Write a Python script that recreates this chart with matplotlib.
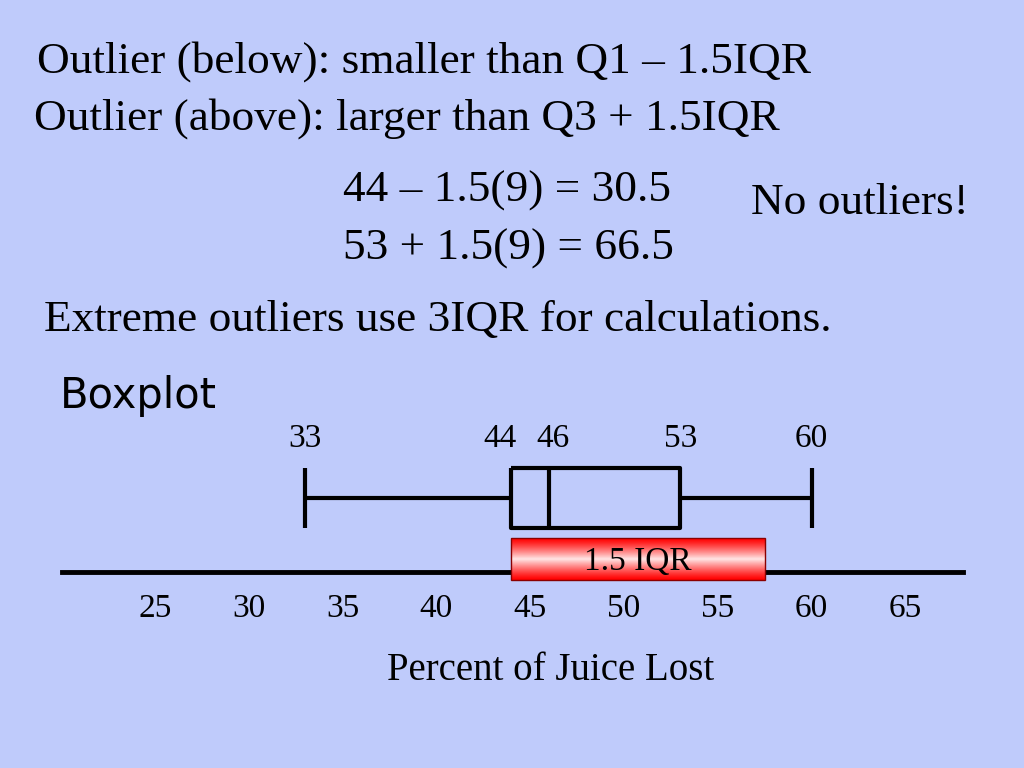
import matplotlib
matplotlib.use("Agg")
import matplotlib.pyplot as plt
import numpy as np

tick_values = [25, 30, 35, 40, 45, 50, 55, 60, 65]
five_num = [33, 44, 46, 53, 60]  # min, Q1, median, Q3, max
iqr = five_num[3] - five_num[1]

bg = "#BFCBFB"
fig = plt.figure(figsize=(10.24, 7.68), dpi=100, facecolor=bg)
ax = fig.add_axes([0, 0, 1, 1])
ax.set_facecolor(bg)
ppu = 18.76
x0 = 25 - 155 / ppu
ax.set_xlim(x0, x0 + 1024 / ppu)
ax.set_ylim(768, 0)
ax.axis("off")

serif = "Liberation Serif"
big = 32.6
ax.text(25 - 118 / ppu, 62, "Outlier (below): smaller than Q1 – 1.5IQR", fontsize=big, family=serif, va="center")
ax.text(25 - 121 / ppu, 119, "Outlier (above): larger than Q3 + 1.5IQR", fontsize=big, family=serif, va="center")
ax.text(25 + 188 / ppu, 191, f"{five_num[1]} – 1.5({iqr}) = {five_num[1]-1.5*iqr}", fontsize=big, family=serif, va="center")
ax.text(25 + 188 / ppu, 249, f"{five_num[3]} + 1.5({iqr}) = {five_num[3]+1.5*iqr}", fontsize=big, family=serif, va="center")
ax.text(25 + 596 / ppu, 203, "No outliers!", fontsize=big, family=serif, va="center")
ax.text(25 - 111 / ppu, 320, "Extreme outliers use 3IQR for calculations.", fontsize=big, family=serif, va="center")
ax.text(25 - 95 / ppu, 396, "Boxplot", fontsize=30, family="DejaVu Sans", va="center")

ax.plot([x0 + 62 / ppu, x0 + 963 / ppu], [572, 572], color="black", lw=3.5)
for t in tick_values:
    ax.text(t, 609, str(t), fontsize=24, family=serif, ha="center", va="center")
ax.text(25 + 396 / ppu, 671, "Percent of Juice Lost", fontsize=28, family=serif, ha="center", va="center")

lo, hi = five_num[1], five_num[1] + 1.5 * iqr
g = np.abs(np.linspace(-1, 1, 64))[:, None]
cols = np.zeros((64, 1, 3))
cols[..., 0] = 1.0
cols[..., 1] = 0.9 * (1 - g) ** 1.2
cols[..., 2] = 0.9 * (1 - g) ** 1.2
ax.imshow(cols, extent=[lo, hi, 580, 538], aspect="auto", zorder=3)
ax.add_patch(plt.Rectangle((lo, 538), hi - lo, 42, fill=False, ec="#8b0000", lw=1, zorder=4))
ax.text((lo + hi) / 2, 562, "1.5 IQR", fontsize=24, family=serif, ha="center", va="center", zorder=5)

mn, q1, med, q3, mx = five_num
yt, yb = 468, 528
ym = (yt + yb) / 2
kw = dict(color="black", lw=3, solid_capstyle="butt")
ax.plot([q1, q3, q3, q1, q1], [yt, yt, yb, yb, yt], **kw)
ax.plot([med, med], [yt, yb], **kw)
ax.plot([mn, q1], [ym, ym], **kw)
ax.plot([q3, mx], [ym, ym], **kw)
ax.plot([mn, mn], [yt, yb], **kw)
ax.plot([mx, mx], [yt, yb], **kw)
for v, dx in zip(five_num, [0, -0.6, 0.2, 0, 0]):
    ax.text(v + dx, 439, str(v), fontsize=24, family=serif, ha="center", va="center")

fig.savefig("out.png", dpi=100, facecolor=bg)
